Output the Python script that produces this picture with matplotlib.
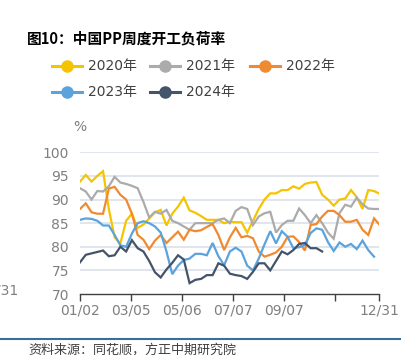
import matplotlib
matplotlib.use("Agg")
import matplotlib.pyplot as plt
from matplotlib.lines import Line2D

plt.rcParams['font.family'] = ['DejaVu Sans', 'Noto Sans CJK SC']

title = "图10：中国PP周度开工负荷率"
source = "资料来源：同花顺，方正中期研究院"
series_names = ["2020年", "2021年", "2022年", "2023年", "2024年"]
colors = ["#F5C400", "#ABABAB", "#F08A30", "#5BA3DC", "#44546A"]

y2020 = [93.8, 95.2, 93.8, 95.0, 96.0, 88.0, 82.0, 80.7, 85.5, 87.0, 84.0, 84.7, 86.0, 87.3, 87.8,
         84.5, 87.0, 88.5, 90.4, 87.7, 87.2, 86.5, 85.7, 85.7, 85.7, 85.0, 85.3, 85.2, 85.2, 83.0,
         85.5, 88.0, 90.0, 91.3, 91.3, 92.0, 92.0, 92.8, 92.3, 93.3, 93.6, 93.7, 91.0, 90.0, 88.7,
         90.0, 90.2, 92.0, 90.5, 88.0, 92.0, 91.8, 91.2]
y2021 = [92.4, 91.7, 90.0, 91.8, 91.7, 92.8, 94.8, 93.6, 93.3, 92.9, 92.4, 89.5, 86.2, 87.4, 87.0,
         87.8, 85.5, 85.0, 84.3, 83.6, 85.0, 85.0, 85.0, 85.0, 85.7, 86.0, 85.0, 87.6, 88.4, 88.0,
         84.6, 86.4, 87.1, 87.4, 83.0, 84.6, 85.5, 85.5, 88.1, 86.7, 85.0, 86.7, 85.0, 83.0, 81.7,
         87.1, 88.9, 88.5, 90.4, 89.0, 88.1, 88.0, 88.0]
y2022 = [88.0, 89.2, 87.3, 87.0, 87.0, 92.3, 92.7, 91.0, 90.0, 87.0, 82.5, 81.5, 79.5, 81.3, 82.5,
         80.8, 82.0, 83.2, 81.5, 83.6, 83.3, 83.5, 84.2, 84.8, 82.5, 79.3, 82.0, 84.0, 82.0, 82.3,
         81.8, 79.0, 77.9, 78.3, 78.8, 80.0, 82.1, 82.2, 81.0, 79.2, 84.6, 84.8, 86.4, 87.6, 87.6,
         86.7, 85.3, 85.3, 85.7, 83.6, 82.5, 86.0, 84.6]
y2023 = [85.7, 86.0, 85.9, 85.5, 84.5, 84.5, 82.5, 80.3, 80.0, 82.8, 85.0, 85.4, 85.0, 84.3, 83.0,
         79.0, 74.2, 76.0, 77.2, 77.5, 78.5, 78.5, 78.2, 80.8, 78.0, 76.1, 79.0, 79.8, 79.0, 76.0,
         75.0, 77.5, 80.5, 83.3, 80.7, 83.3, 82.1, 79.7, 79.9, 80.4, 82.9, 83.9, 83.6, 81.0, 79.1,
         80.9, 80.0, 80.6, 79.5, 81.3, 79.3, 77.9]
y2024 = [76.7, 78.3, 78.6, 78.9, 79.2, 78.0, 78.2, 80.0, 79.0, 81.4, 79.7, 79.0, 77.0, 74.6, 73.5,
         75.2, 76.6, 78.2, 77.3, 72.3, 73.0, 73.2, 74.0, 74.0, 76.5, 76.0, 74.3, 74.0, 73.8, 73.2,
         74.7, 76.5, 76.5, 75.0, 77.0, 79.0, 78.4, 79.3, 80.6, 80.8, 79.7, 79.7, 79.0]
all_series = [y2020, y2021, y2022, y2023, y2024]

tick_days = [0, 62, 124, 186, 248, 310, 363]
tick_labels = ["01/02", "03/05", "05/06", "07/07", "09/07", "", "12/31"]
y_ticks = [70, 75, 80, 85, 90, 95, 100]

fig = plt.figure(figsize=(4.01, 3.55), dpi=100)
ax = fig.add_axes([80/401, 1-294/355, 299/401, (294-152.3)/355])

for vals, c in zip(all_series, colors):
    days = [7*i for i in range(len(vals))]
    ax.plot(days, vals, color=c, lw=1.6, solid_joinstyle='miter', zorder=3)

ax.set_xlim(0, 363)
ax.set_ylim(70, 100)
ax.set_yticks(y_ticks)
ax.set_xticks(tick_days)
ax.set_xticklabels(tick_labels)
for y in y_ticks[1:]:
    ax.axhline(y, color="#D9DEEA", lw=1.1, zorder=1)
for s in ["top", "right", "left"]:
    ax.spines[s].set_visible(False)
ax.spines["bottom"].set_color("#404040")
ax.spines["bottom"].set_linewidth(1.0)
ax.tick_params(axis="y", length=0, labelsize=10, labelcolor="#7F7F7F", pad=8)
ax.tick_params(axis="x", length=5, width=1.0, color="#404040", direction="out",
               labelsize=10, labelcolor="#7F7F7F", pad=2)
ax.set_facecolor("none")

fig.text(80/401, 1-127/355, "%", fontsize=10, color="#7F7F7F", ha="center", va="center")
fig.text(27/401, 1-38/355, title, fontsize=10.6, fontweight="bold", color="#000000",
         ha="left", va="center", family=["Noto Sans CJK SC", "DejaVu Sans"])

# legend
leg_pos = [(52, 66), (150, 66), (250, 66), (52, 92), (150, 92)]
for (lx, ly), name, c in zip(leg_pos, series_names, colors):
    fy = 1 - ly/355
    fig.add_artist(Line2D([lx/401, (lx+30)/401], [fy, fy], color=c, lw=2.2,
                          transform=fig.transFigure))
    fig.add_artist(Line2D([(lx+15)/401], [fy], marker="o", ms=8, color=c, mec=c,
                          transform=fig.transFigure))
    fig.text((lx+36)/401, fy, name, fontsize=10, color="#404040", ha="left", va="center")

# fragment of neighbouring chart at left edge
fig.text(-4/401, 1-290/355, "/31", fontsize=10, color="#7F7F7F", ha="left", va="center")

fig.add_artist(Line2D([0, 1], [1-339/355, 1-339/355], color="#3A6E99", lw=1.5,
                      transform=fig.transFigure))
fig.text(28/401, 1-350/355, source, fontsize=9.4, color="#404040", ha="left", va="center",
         family=["Noto Sans CJK SC", "DejaVu Sans"])

fig.savefig("out.png", dpi=100)
